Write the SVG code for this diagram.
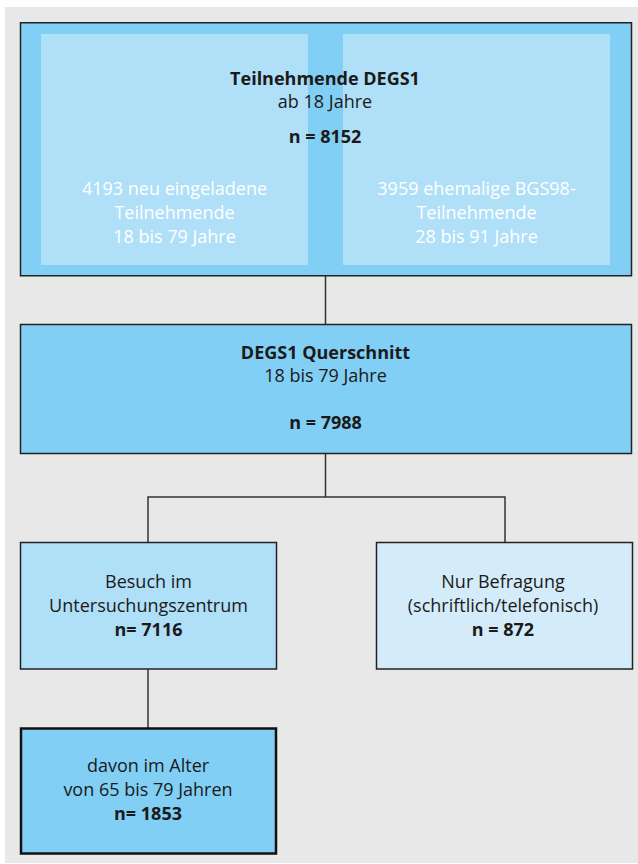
<svg xmlns="http://www.w3.org/2000/svg" width="638" height="864" viewBox="0 0 638 864">
<style>
  text { font-family: "Open Sans", "Liberation Sans", sans-serif; font-size: 18px; fill: #1a1a1a; text-anchor: middle; }
  .b { font-weight: bold; }
  .w { fill: #ffffff; }
  .box { stroke: #222; stroke-width: 1.5; }
  .conn { stroke: #333; stroke-width: 1.5; fill: none; }
</style>
<rect x="5" y="7" width="633" height="856" fill="#e8e8e8"/>
<g id="connectors">
  <line class="conn" x1="325.5" y1="276" x2="325.5" y2="324"/>
  <line class="conn" x1="325.5" y1="453" x2="325.5" y2="497"/>
  <polyline class="conn" points="148,542 148,497 505,497 505,542"/>
  <line class="conn" x1="148" y1="669" x2="148" y2="728"/>
</g>
<g id="node-teilnehmende">
  <rect class="box" x="20.5" y="22.75" width="611" height="253" fill="#82cff5"/>
  <rect x="41" y="34" width="267" height="231" fill="#b0dff8"/>
  <rect x="343" y="34" width="267" height="231" fill="#b0dff8"/>
  <text class="b" x="325" y="85">Teilnehmende DEGS1</text>
  <text x="325" y="107.5">ab 18 Jahre</text>
  <text class="b" x="325" y="143">n = 8152</text>
  <text class="w" x="174.5" y="195">4193 neu eingeladene</text>
  <text class="w" x="174.5" y="218.5">Teilnehmende</text>
  <text class="w" x="174.5" y="242.5">18 bis 79 Jahre</text>
  <text class="w" x="476.5" y="195">3959 ehemalige BGS98-</text>
  <text class="w" x="476.5" y="218.5">Teilnehmende</text>
  <text class="w" x="476.5" y="242.5">28 bis 91 Jahre</text>
</g>
<g id="node-querschnitt">
  <rect class="box" x="20.5" y="324.5" width="611" height="129" fill="#82cff5"/>
  <text class="b" x="325.5" y="358.5">DEGS1 Querschnitt</text>
  <text x="325.5" y="381.5">18 bis 79 Jahre</text>
  <text class="b" x="325.5" y="429">n = 7988</text>
</g>
<g id="node-besuch">
  <rect class="box" x="20.5" y="542.5" width="256" height="126.5" fill="#b0dff8"/>
  <text x="148.5" y="587.5">Besuch im</text>
  <text x="148.5" y="611.5">Untersuchungszentrum</text>
  <text class="b" x="148.5" y="635.5">n= 7116</text>
</g>
<g id="node-befragung">
  <rect class="box" x="376.5" y="542.5" width="256" height="126.5" fill="#d4ebfa"/>
  <text x="503" y="587.5">Nur Befragung</text>
  <text x="503" y="611.5">(schriftlich/telefonisch)</text>
  <text class="b" x="503" y="635.5">n = 872</text>
</g>
<g id="node-alter">
  <rect x="21" y="728.5" width="255" height="125" fill="#82cff5" stroke="#111" stroke-width="2.5"/>
  <text x="148" y="771.5">davon im Alter</text>
  <text x="148" y="795.5">von 65 bis 79 Jahren</text>
  <text class="b" x="148" y="820">n= 1853</text>
</g>
</svg>
